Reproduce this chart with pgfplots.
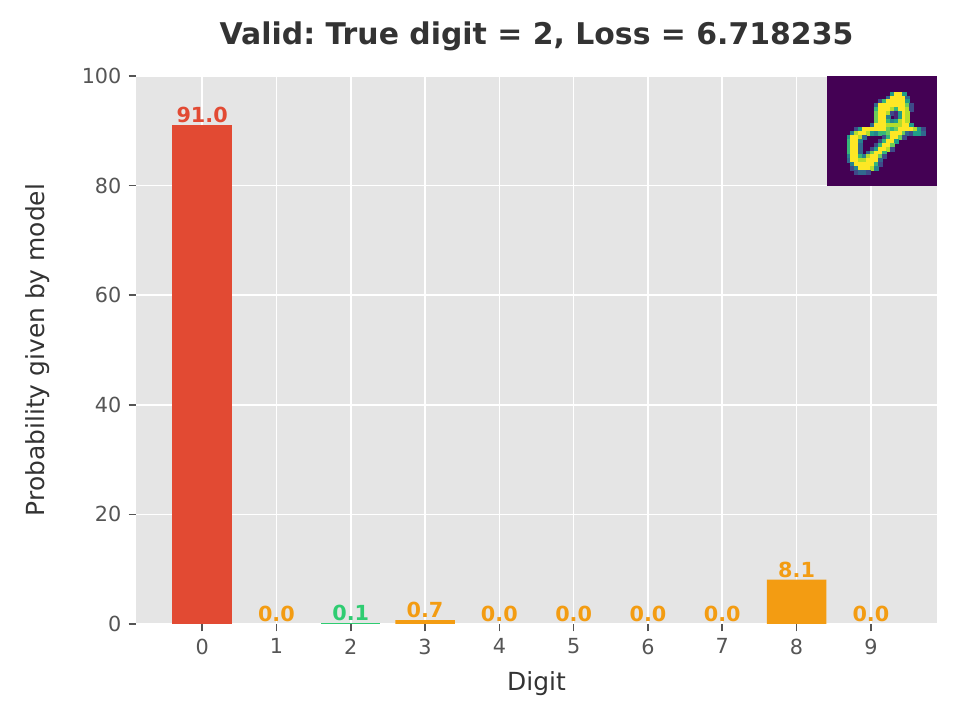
\documentclass[border=0pt]{standalone}
\usepackage{pgfplots}
\usepackage{pgfplotstable}
\pgfplotsset{compat=1.18}
\usepackage{fontspec}
\setmainfont{DejaVu Sans}
\frenchspacing
\definecolor{bgc}{HTML}{E5E5E5}
\definecolor{redc}{HTML}{E24A33}
\definecolor{orc}{HTML}{F39C12}
\definecolor{grc}{HTML}{2ECC71}
\definecolor{tkc}{HTML}{555555}
\definecolor{txc}{HTML}{333333}
\definecolor{vir0}{HTML}{440154}

% inset digit: column, row, intensity (0..9); zero pixels omitted
\pgfplotstableread[row sep=\\]{
x y c\\
16 4 5\\ 17 4 9\\ 18 4 9\\ 19 4 5\\
15 5 3\\ 16 5 9\\ 17 5 9\\ 18 5 9\\ 19 5 9\\ 20 5 3\\
13 6 2\\ 14 6 6\\ 15 6 9\\ 16 6 9\\ 17 6 9\\ 18 6 9\\ 19 6 9\\ 20 6 5\\
12 7 3\\ 13 7 9\\ 14 7 9\\ 15 7 9\\ 16 7 9\\ 17 7 9\\ 18 7 9\\ 19 7 9\\ 20 7 7\\ 21 7 2\\
12 8 6\\ 13 8 9\\ 14 8 9\\ 15 8 9\\ 16 8 8\\ 17 8 6\\ 18 8 9\\ 19 8 9\\ 20 8 8\\ 21 8 2\\
12 9 7\\ 13 9 9\\ 14 9 9\\ 15 9 8\\ 16 9 2\\ 17 9 1\\ 18 9 5\\ 19 9 9\\ 20 9 8\\
12 10 7\\ 13 10 9\\ 14 10 9\\ 15 10 4\\ 17 10 1\\ 18 10 5\\ 19 10 9\\ 20 10 8\\
12 11 7\\ 13 11 9\\ 14 11 9\\ 15 11 6\\ 16 11 4\\ 17 11 5\\ 18 11 8\\ 19 11 9\\ 20 11 8\\
11 12 3\\ 12 12 9\\ 13 12 9\\ 14 12 9\\ 15 12 8\\ 16 12 8\\ 17 12 8\\ 18 12 8\\ 19 12 9\\ 20 12 9\\ 21 12 5\\
7 13 2\\ 8 13 5\\ 9 13 9\\ 10 13 9\\ 11 13 9\\ 12 13 9\\ 13 13 9\\ 14 13 9\\ 15 13 7\\ 16 13 6\\ 17 13 7\\ 18 13 9\\ 19 13 9\\ 20 13 9\\ 21 13 9\\ 22 13 8\\ 23 13 5\\ 24 13 2\\
6 14 4\\ 7 14 8\\ 8 14 9\\ 9 14 9\\ 10 14 8\\ 11 14 5\\ 12 14 4\\ 13 14 6\\ 14 14 6\\ 15 14 7\\ 16 14 9\\ 17 14 9\\ 18 14 9\\ 19 14 7\\ 20 14 3\\ 21 14 2\\ 22 14 5\\ 23 14 5\\ 24 14 3\\
5 15 5\\ 6 15 9\\ 7 15 9\\ 8 15 8\\ 9 15 3\\ 14 15 2\\ 15 15 6\\ 16 15 9\\ 17 15 9\\ 18 15 7\\ 19 15 2\\
5 16 6\\ 6 16 9\\ 7 16 9\\ 8 16 4\\ 13 16 2\\ 14 16 6\\ 15 16 9\\ 16 16 9\\ 17 16 5\\
5 17 6\\ 6 17 9\\ 7 17 9\\ 8 17 3\\ 12 17 2\\ 13 17 6\\ 14 17 9\\ 15 17 9\\ 16 17 7\\
5 18 6\\ 6 18 9\\ 7 18 9\\ 8 18 3\\ 11 18 2\\ 12 18 5\\ 13 18 9\\ 14 18 9\\ 15 18 8\\ 16 18 2\\
5 19 6\\ 6 19 9\\ 7 19 9\\ 8 19 3\\ 10 19 3\\ 11 19 7\\ 12 19 9\\ 13 19 9\\ 14 19 6\\
5 20 4\\ 6 20 9\\ 7 20 9\\ 8 20 6\\ 9 20 4\\ 10 20 8\\ 11 20 9\\ 12 20 9\\ 13 20 7\\ 14 20 2\\
5 21 3\\ 6 21 9\\ 7 21 9\\ 8 21 8\\ 9 21 8\\ 10 21 9\\ 11 21 9\\ 12 21 9\\ 13 21 3\\
6 22 4\\ 7 22 9\\ 8 22 9\\ 9 22 9\\ 10 22 9\\ 11 22 9\\ 12 22 6\\ 13 22 2\\
6 23 2\\ 7 23 4\\ 8 23 9\\ 9 23 9\\ 10 23 9\\ 11 23 8\\ 12 23 4\\
7 24 2\\ 8 24 3\\ 9 24 3\\ 10 24 2\\
}\digit

\begin{document}
\begin{tikzpicture}
\useasboundingbox (0,0) rectangle (460.8bp,345.6bp);
\begin{axis}[
  name=main,
  at={(65.28bp,46.08bp)}, anchor=south west,
  width=384.48bp, height=263.04bp, scale only axis,
  xmin=-0.89, xmax=9.89, ymin=0, ymax=100,
  xtick={0,...,9}, ytick={0,20,...,100},
  axis background/.style={fill=bgc},
  axis line style={draw=none},
  grid=major, major grid style={white, line width=0.8bp},
  tick align=outside, major tick length=3.5bp,
  tick style={tkc, line width=0.8bp},
  ticklabel style={font=\fontsize{10}{12}\selectfont, text=tkc},
  /pgf/number format/assume math mode=true,
  xtick pos=bottom, ytick pos=left,
  title={Valid: True digit = 2, Loss = 6.718235},
  every axis title/.style={font=\bfseries\fontsize{14.4}{17}\selectfont, text=txc, at={(axis description cs:0.5,1.0566)}, anchor=base},
  xlabel={Digit},
  every axis x label/.style={font=\fontsize{12}{14}\selectfont, text=txc, at={(axis description cs:0.5,-0.1205)}, anchor=base},
  ylabel={Probability given by model},
  every axis y label/.style={font=\fontsize{12}{14}\selectfont, text=txc, at={(axis description cs:-0.1137,0.5)}, rotate=90, anchor=base},
  nodes near coords={\pgfmathprintnumber[fixed,fixed zerofill,precision=1]{\pgfplotspointmeta}},
  every node near coord/.append style={font=\bfseries\fontsize{10}{12}\selectfont, anchor=base, inner sep=0pt, yshift=1.2bp},
]
\addplot[ybar, bar width=0.8, bar shift=0pt, fill=redc, draw=none,
  every node near coord/.append style={text=redc}]
  coordinates {(0,91.0)};
\addplot[ybar, bar width=0.8, bar shift=0pt, fill=grc, draw=none,
  every node near coord/.append style={text=grc}]
  coordinates {(2,0.1)};
\addplot[ybar, bar width=0.8, bar shift=0pt, fill=orc, draw=none,
  every node near coord/.append style={text=orc}]
  coordinates {(1,0.0) (3,0.7) (4,0.0) (5,0.0) (6,0.0) (7,0.0) (8,8.1) (9,0.0)};
\end{axis}
\begin{axis}[
  at={(main.north east)}, anchor=north east,
  width=52.8bp, height=52.8bp, scale only axis,
  xmin=-0.5, xmax=27.5, ymin=-0.5, ymax=27.5, y dir=reverse,
  axis background/.style={fill=vir0},
  axis line style={draw=none}, ticks=none,
  colormap/viridis, point meta min=0, point meta max=9,
]
\addplot[scatter, only marks, mark=square*, mark size=0.95bp, point meta=explicit,
  scatter/use mapped color={draw=mapped color, fill=mapped color},
  mark options={line width=0.1bp}]
  table[x=x, y=y, meta=c]{\digit};
\end{axis}
\end{tikzpicture}
\end{document}
